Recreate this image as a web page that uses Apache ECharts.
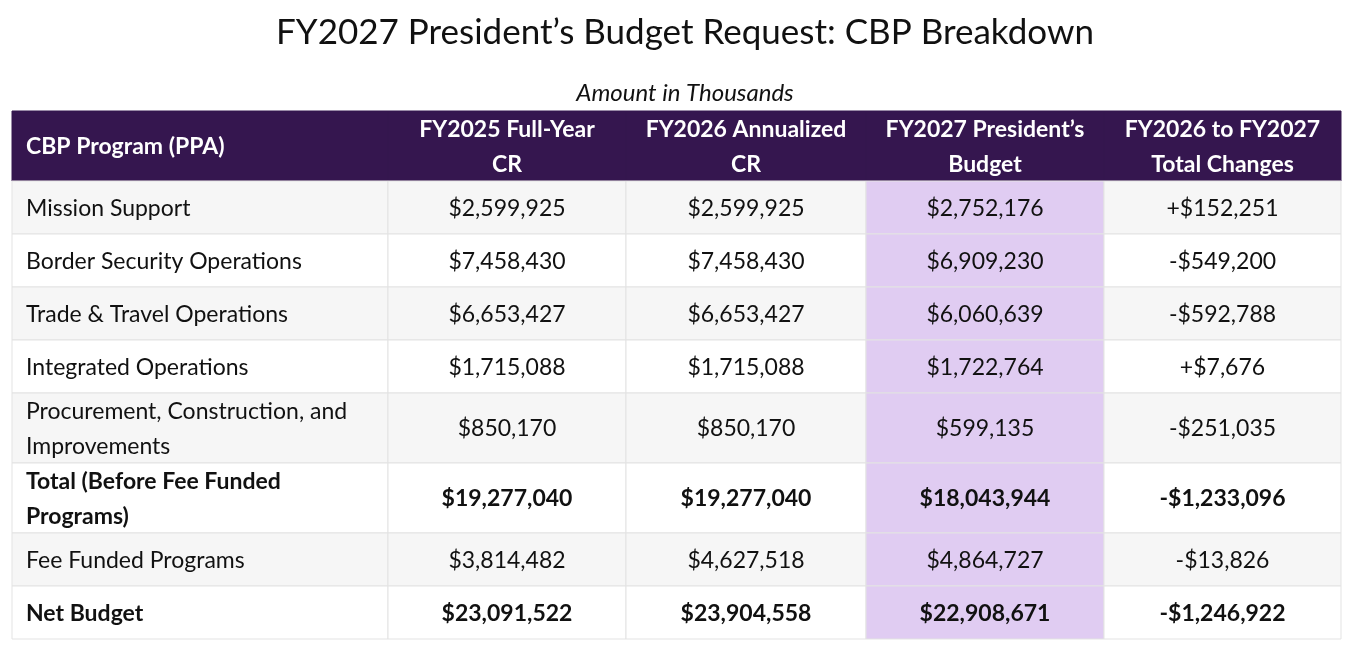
<!DOCTYPE html>
<html>
<head>
<meta charset="utf-8">
<script src="https://cdn.jsdelivr.net/npm/echarts@6/dist/echarts.min.js"></script>
<style>
  html, body { margin: 0; padding: 0; background: #fff; }
  #main { width: 1370px; height: 662px; }
</style>
</head>
<body>
<div id="main"></div>
<script type="text/javascript">
// table content
var headers = ['CBP Program (PPA)', 'FY2025 Full-Year\nCR', 'FY2026 Annualized\nCR', 'FY2027 President\u2019s\nBudget', 'FY2026 to FY2027\nTotal Changes'];
var programs = ['Mission Support', 'Border Security Operations', 'Trade & Travel Operations', 'Integrated Operations',
  'Procurement, Construction, and\nImprovements', 'Total (Before Fee Funded\nPrograms)', 'Fee Funded Programs', 'Net Budget'];
var fy2025 = [2599925, 7458430, 6653427, 1715088, 850170, 19277040, 3814482, 23091522];
var fy2026 = [2599925, 7458430, 6653427, 1715088, 850170, 19277040, 4627518, 23904558];
var fy2027 = [2752176, 6909230, 6060639, 1722764, 599135, 18043944, 4864727, 22908671];
var changes = [152251, -549200, -592788, 7676, -251035, -1233096, -13826, -1246922];
var boldRows = ['Total (Before Fee Funded\nPrograms)', 'Net Budget'];

// layout (column widths / row heights in axis units)
var colWeights = [376, 238, 240, 238, 237];
var twoLineUnits = 1.32;

function money(v) {
  return '$' + Math.abs(v).toLocaleString('en-US');
}
function change(v) {
  return (v < 0 ? '-' : '+') + money(v);
}

var colStart = [];
var acc = 0;
colWeights.forEach(function (w) { colStart.push(acc); acc += w; });
var totalW = acc;

var rowTexts = [headers[0]].concat(programs);
var rowUnits = rowTexts.map(function (t, i) {
  var lines = i === 0 ? 2 : t.split('\n').length;
  return lines > 1 ? twoLineUnits : 1;
});
var rowStart = [];
acc = 0;
rowUnits.forEach(function (u) { rowStart.push(acc); acc += u; });
var totalH = acc;

var cells = [];
for (var r = 0; r <= programs.length; r++) {
  for (var c = 0; c < headers.length; c++) {
    cells.push([c, r]);
  }
}

function cellText(c, r) {
  if (r === 0) return headers[c];
  var i = r - 1;
  if (c === 0) return programs[i];
  if (c === 1) return money(fy2025[i]);
  if (c === 2) return money(fy2026[i]);
  if (c === 3) return money(fy2027[i]);
  return change(changes[i]);
}

function renderItem(params, api) {
  var c = api.value(0), r = api.value(1);
  var p0 = api.coord([colStart[c], rowStart[r]]);
  var p1 = api.coord([colStart[c] + colWeights[c], rowStart[r] + rowUnits[r]]);
  var w = p1[0] - p0[0], h = p1[1] - p0[1];
  var fill, color = '#111', weight = 'normal';
  if (r === 0) {
    fill = '#35164f'; color = '#fff'; weight = 'bold';
  } else if (c === 3) {
    fill = '#e0ccf2';
  } else {
    fill = (r % 2 === 1) ? '#f6f6f6' : '#ffffff';
  }
  if (r > 0 && boldRows.indexOf(programs[r - 1]) >= 0) weight = 'bold';
  var left = c === 0;
  return {
    type: 'group',
    children: [{
      type: 'rect',
      shape: { x: p0[0], y: p0[1], width: w, height: h },
      style: { fill: fill, stroke: r === 0 ? '#35164f' : '#e3e3e3', lineWidth: 1 }
    }, {
      type: 'text',
      style: {
        x: left ? p0[0] + 14 : p0[0] + w / 2,
        y: p0[1] + h / 2 + 1,
        text: cellText(c, r),
        align: left ? 'left' : 'center',
        verticalAlign: 'middle',
        fill: color,
        fontFamily: 'Lato',
        fontWeight: weight,
        fontSize: 23,
        lineHeight: 35
      }
    }]
  };
}

var myChart = echarts.init(document.getElementById('main'));
myChart.setOption({
  backgroundColor: '#fff',
  animation: false,
  title: [{
    text: 'FY2027 President\u2019s Budget Request: CBP Breakdown',
    left: 'center',
    top: 10,
    textStyle: { fontFamily: 'Lato', fontWeight: 'normal', fontSize: 35, color: '#111' }
  }, {
    text: 'Amount in Thousands',
    left: 'center',
    top: 76,
    textStyle: { fontFamily: 'Lato', fontStyle: 'italic', fontWeight: 'normal', fontSize: 24, color: '#111' }
  }],
  grid: { left: 12, right: 29, top: 111, bottom: 23 },
  xAxis: { type: 'value', min: 0, max: totalW, show: false },
  yAxis: { type: 'value', min: 0, max: totalH, inverse: true, show: false },
  series: [{
    type: 'custom',
    silent: true,
    renderItem: renderItem,
    encode: { x: 0, y: 1 },
    data: cells
  }]
});
</script>
</body>
</html>
